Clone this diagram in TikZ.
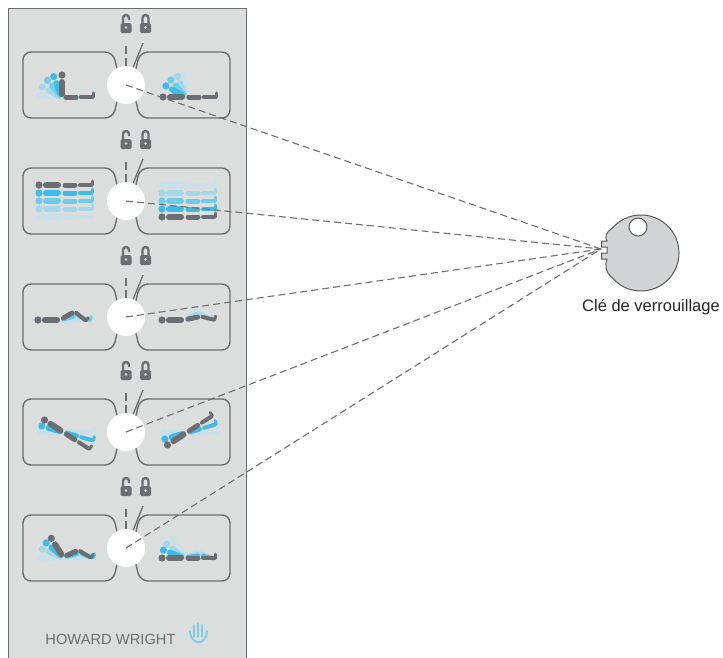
\documentclass[tikz,border=0pt]{standalone}
\usepackage{fontspec}
\setmainfont{Liberation Sans}
\usepackage{tikz}

\definecolor{bedgray}{HTML}{6D6E71}
\definecolor{panelgray}{HTML}{DCDDDD}
\definecolor{keygray}{HTML}{D1D3D4}
\definecolor{keyline}{HTML}{58595B}
\definecolor{blueA}{HTML}{3DBDE6}
\definecolor{blueB}{HTML}{6FCBEA}
\definecolor{blueC}{HTML}{A3D8EA}
\definecolor{blueD}{HTML}{C6E1E9}
\definecolor{handblue}{HTML}{7FCDEA}

\tikzset{
  posbox/.style={draw=bedgray, line width=1.4pt, rounded corners=8pt},
  selector/.style={circle, fill=white, minimum size=38pt, inner sep=0pt},
  link/.style={draw=bedgray, line width=1.1pt, dash pattern=on 7pt off 4pt},
}

% person on the bed: hip, back angle, thigh angle, shin angle, colour
\newcommand{\sleeper}[5]{%
  \fill[#5] (#1) ++(#2:22) circle (3.6);
  \draw[#5, line cap=round, line width=6pt] (#1) ++(#2:3) -- ++(#2:12);
  \draw[#5, line cap=round, line width=5pt] (#1) ++(#3:4) -- ++(#3:10);
  \draw[#5, line cap=round, line width=4pt] (#1) ++(#3:17) ++(#4:2) -- ++(#4:11) coordinate (foot);
  \draw[#5, line cap=round, line width=3pt] (foot) ++(#4:1.5) -- ++({#4-90}:4);
}

\begin{document}
\begin{tikzpicture}[x=1pt, y=-1pt]
    \clip (0,0) rectangle (723,657);

    % remote panel
    \filldraw[fill=panelgray, draw=bedgray, line width=1pt] (8,8) rectangle (246,680);

    % position buttons, selectors and locks
    \foreach \c [count=\i] in {85,201,317,432,548} {
        \draw[posbox] (23,\c-33) -- (113,\c-33) -- (121,\c) -- (113,\c+33) -- (23,\c+33) -- cycle;
        \draw[posbox] (230,\c-33) -- (140,\c-33) -- (132,\c) -- (140,\c+33) -- (230,\c+33) -- cycle;
        \node[selector] (sel\i) at (126,\c) {};
        \coordinate (open\i) at (126,\c-43);
        \coordinate (shut\i) at (143,\c-42);
        \draw[link, line width=1.4pt, dash pattern=on 8pt off 4pt] (sel\i.north) -- (open\i);
        \draw[bedgray, line width=1.3pt] (sel\i.68) -- (shut\i);
        % open lock
        \draw[bedgray, line width=2.4pt] (123,\c-61) -- (123,\c-67) arc (180:360:3) -- (129,\c-65);
        \fill[bedgray, rounded corners=1.5pt] (120.5,\c-62) rectangle (131.5,\c-52);
        \fill[panelgray] (126,\c-57.5) circle (1.3);
        % closed lock
        \draw[bedgray, line width=2.4pt] (142.5,\c-61) -- (142.5,\c-67) arc (180:360:3) -- (148.5,\c-61);
        \fill[bedgray, rounded corners=1.5pt] (140,\c-62) rectangle (151,\c-52);
        \fill[panelgray] (145.5,\c-57.5) circle (1.3);
    }

    % head up / head down
    \foreach \a/\col in {-176/blueD, -153/blueC, -131/blueB, -112/blueA}
        \sleeper{62,97}{\a}{0}{0}{\col};
    \sleeper{62,97}{-90}{0}{0}{bedgray};
    \foreach \a/\col in {-92/blueD, -110/blueC, -130/blueB, -150/blueA}
        \sleeper{185,97}{\a}{0}{0}{\col};
    \sleeper{185,97}{180}{0}{0}{bedgray};

    % bed up / bed down
    \foreach \y/\col in {217/blueD, 209/blueC, 201/blueB, 193/blueA, 185/bedgray}
        \sleeper{61,\y}{180}{0}{0}{\col};
    \foreach \y/\col in {185/blueD, 193/blueC, 201/blueB, 209/blueA, 217/bedgray}
        \sleeper{184,\y}{180}{0}{0}{\col};

    % knees up / knees down
    \sleeper{60,320}{180}{0}{0}{blueD};
    \sleeper{60,320}{180}{-15}{20}{blueB};
    \sleeper{60,320}{180}{-30}{40}{bedgray};
    \sleeper{184,320}{180}{-35}{40}{blueD};
    \sleeper{184,320}{180}{-24}{28}{blueC};
    \sleeper{184,320}{180}{-12}{14}{bedgray};

    % tilt
    \foreach \t/\col in {0/blueD, 16/blueA, 33/bedgray}
        \sleeper{63,432}{180+\t}{\t}{\t}{\col};
    \foreach \t/\col in {0/blueD, -16/blueA, -33/bedgray}
        \sleeper{186,433}{180+\t}{\t}{\t}{\col};

    % chair position / flat
    \sleeper{63,557}{177}{0}{0}{blueD};
    \sleeper{63,557}{-159}{-8}{12}{blueC};
    \sleeper{63,557}{-140}{-16}{22}{blueA};
    \sleeper{63,557}{-122}{-24}{32}{bedgray};
    \sleeper{184,558}{-119}{-24}{32}{blueD};
    \sleeper{184,558}{-141}{-16}{22}{blueC};
    \sleeper{184,558}{-159}{-8}{12}{blueA};
    \sleeper{184,558}{180}{0}{0}{bedgray};

    % brand
    \node[font=\fontsize{14.7}{16}\selectfont, text=bedgray, anchor=base] (brand) at (110.5,644) {HOWARD WRIGHT};
    \draw[handblue, line width=1.8pt, line cap=round]
        (190,631) .. controls (191,646) and (206,646) .. (207,631)
        (194,637) -- (194,625) (198,637) -- (198,623) (202,637) -- (202,625);

    % lock key
    \filldraw[fill=keygray, draw=keyline, line width=1pt]
        (611.9,277.4) arc[start angle=140, end angle=-140, radius=38]
        .. controls (605,233) and (605,237) .. (607,241) -- (601.5,241) -- (601.5,247)
        -- (607,247) -- (607,253) -- (601.5,253) -- (601.5,259) -- (607,259)
        .. controls (605,265) and (605,272) .. cycle;
    \filldraw[fill=white, draw=keyline, line width=1pt] (638,227) circle (9);
    \coordinate (keyslot) at (601,249);
    \node[font=\fontsize{16.5}{19}\selectfont, text=black!85, anchor=base] (keylabel) at (651,311) {Clé de verrouillage};

    % each selector works with the key
    \foreach \i in {1,...,5}
        \draw[link] (sel\i.center) -- (keyslot);
\end{tikzpicture}
\end{document}
